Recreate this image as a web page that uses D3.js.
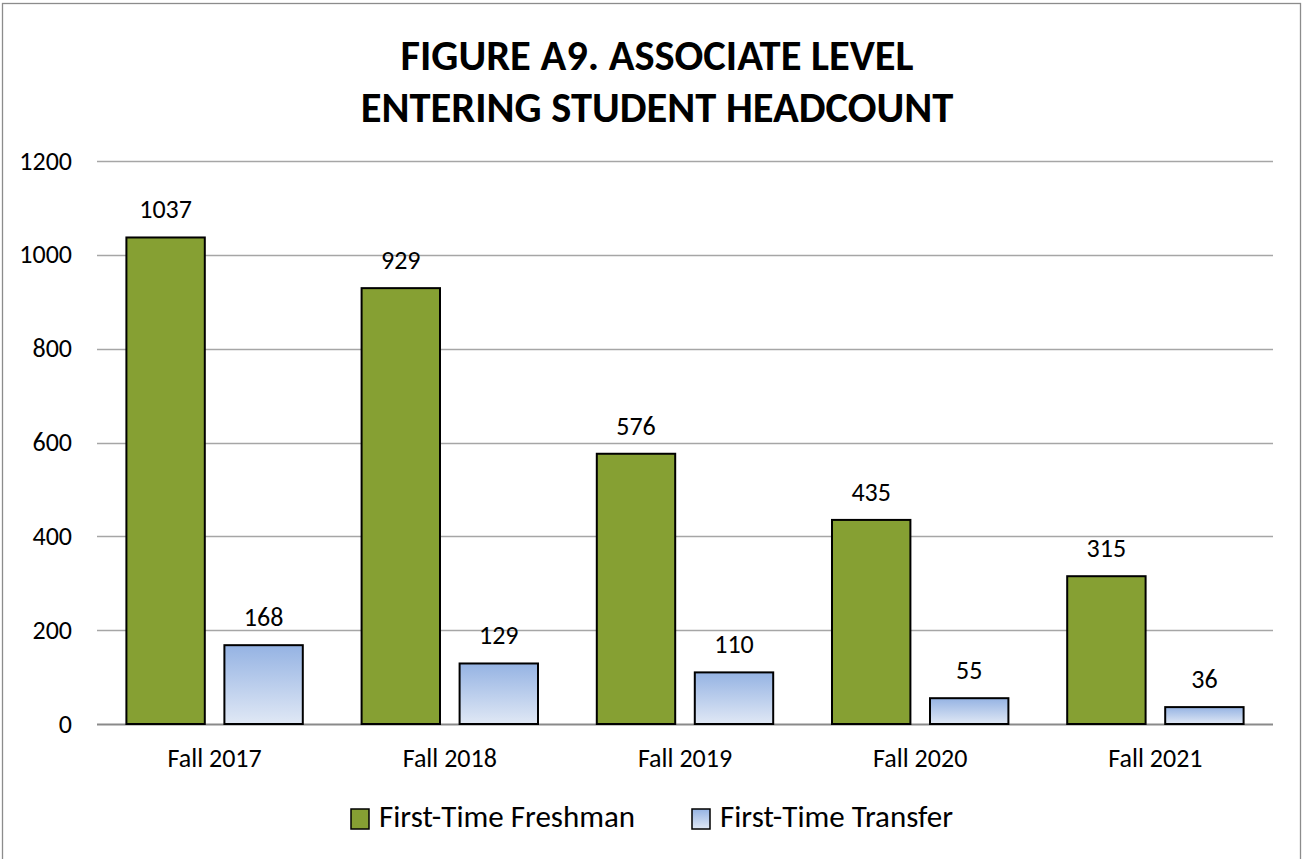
<!DOCTYPE html>
<html>
<head>
<meta charset="utf-8">
<script src="https://cdn.jsdelivr.net/npm/d3@7"></script>
<style>
  body { margin: 0; background: #fff; }
  svg { display: block; font-family: Calibri, Carlito, "Open Sans", sans-serif; }
</style>
</head>
<body>
<div id="chart"></div>
<script>
const categories = ["Fall 2017", "Fall 2018", "Fall 2019", "Fall 2020", "Fall 2021"];
const seriesNames = ["First-Time Freshman", "First-Time Transfer"];
const freshman = [1037, 929, 576, 435, 315];
const transfer = [168, 129, 110, 55, 36];
const yTicks = [0, 200, 400, 600, 800, 1000, 1200];
const titleLines = ["FIGURE A9. ASSOCIATE LEVEL", "ENTERING STUDENT HEADCOUNT"];

const width = 1302, height = 859;
const margin = { top: 161, right: 29, bottom: 135, left: 97 };

const rows = categories.map((c, i) => ({ cat: c, values: [freshman[i], transfer[i]] }));

const svg = d3.select("#chart").append("svg")
  .attr("width", width)
  .attr("height", height);

// gradient for transfer bars
const defs = svg.append("defs");
const grad = defs.append("linearGradient")
  .attr("id", "blueGrad")
  .attr("x1", 0).attr("y1", 0).attr("x2", 0).attr("y2", 1);
grad.append("stop").attr("offset", "0%").attr("stop-color", "#95b3e3");
grad.append("stop").attr("offset", "100%").attr("stop-color", "#e0e8f5");

const fills = ["#86a033", "url(#blueGrad)"];

// outer frame
svg.append("rect")
  .attr("x", 2.5).attr("y", 3.5)
  .attr("width", width - 4).attr("height", height)
  .attr("fill", "none")
  .attr("stroke", "#8c8c8c")
  .attr("stroke-width", 1.3);

const x0 = d3.scaleBand()
  .domain(categories)
  .range([margin.left, width - margin.right]);

const x1 = d3.scaleBand()
  .domain(seriesNames)
  .range([0, x0.bandwidth()])
  .paddingInner(0.2)
  .paddingOuter(0.3);

const y = d3.scaleLinear()
  .domain([0, 1200])
  .range([height - margin.bottom, margin.top]);

// gridlines
svg.append("g")
  .selectAll("line")
  .data(yTicks)
  .join("line")
  .attr("x1", margin.left)
  .attr("x2", width - margin.right)
  .attr("y1", d => Math.round(y(d)) + 0.5)
  .attr("y2", d => Math.round(y(d)) + 0.5)
  .attr("stroke", d => d === 0 ? "#8a8a8a" : "#a6a6a6")
  .attr("stroke-width", d => d === 0 ? 2 : 1.3);

// y tick labels
svg.append("g")
  .selectAll("text")
  .data(yTicks)
  .join("text")
  .attr("x", 72)
  .attr("y", d => y(d))
  .attr("dy", "0.33em")
  .attr("text-anchor", "end")
  .attr("font-size", 26)
  .attr("fill", "#000")
  .text(d => d);

// bars
const groups = svg.append("g")
  .selectAll("g")
  .data(rows)
  .join("g")
  .attr("transform", d => `translate(${x0(d.cat)},0)`);

groups.selectAll("rect")
  .data(d => d.values.map((v, i) => ({ key: seriesNames[i], value: v, i })))
  .join("rect")
  .attr("x", d => x1(d.key))
  .attr("y", d => y(d.value))
  .attr("width", x1.bandwidth())
  .attr("height", d => y(0) - y(d.value))
  .attr("fill", d => fills[d.i])
  .attr("stroke", "#000")
  .attr("stroke-width", 2);

groups.selectAll("text")
  .data(d => d.values.map((v, i) => ({ key: seriesNames[i], value: v })))
  .join("text")
  .attr("x", d => x1(d.key) + x1.bandwidth() / 2)
  .attr("y", d => y(d.value) - 19)
  .attr("text-anchor", "middle")
  .attr("font-size", 26)
  .attr("fill", "#000")
  .text(d => d.value);

// x labels
svg.append("g")
  .selectAll("text")
  .data(categories)
  .join("text")
  .attr("x", d => x0(d) + x0.bandwidth() / 2)
  .attr("y", 767)
  .attr("text-anchor", "middle")
  .attr("font-size", 26)
  .attr("fill", "#000")
  .text(d => d);

// title
svg.append("text")
  .attr("text-anchor", "middle")
  .attr("font-size", 42.5)
  .attr("font-weight", "bold")
  .attr("fill", "#000")
  .selectAll("tspan")
  .data(titleLines)
  .join("tspan")
  .attr("x", 657)
  .attr("y", (d, i) => 70 + i * 52)
  .text(d => d);

// legend
const legendItems = [
  { name: seriesNames[0], x: 351, fill: fills[0] },
  { name: seriesNames[1], x: 692, fill: fills[1] }
];
const legend = svg.append("g")
  .selectAll("g")
  .data(legendItems)
  .join("g")
  .attr("transform", d => `translate(${d.x},809)`);

legend.append("rect")
  .attr("width", 18)
  .attr("height", 20)
  .attr("fill", d => d.fill)
  .attr("stroke", "#000")
  .attr("stroke-width", 1.5);

legend.append("text")
  .attr("x", 28)
  .attr("y", 18)
  .attr("font-size", 31)
  .attr("fill", "#000")
  .text(d => d.name);
</script>
</body>
</html>
